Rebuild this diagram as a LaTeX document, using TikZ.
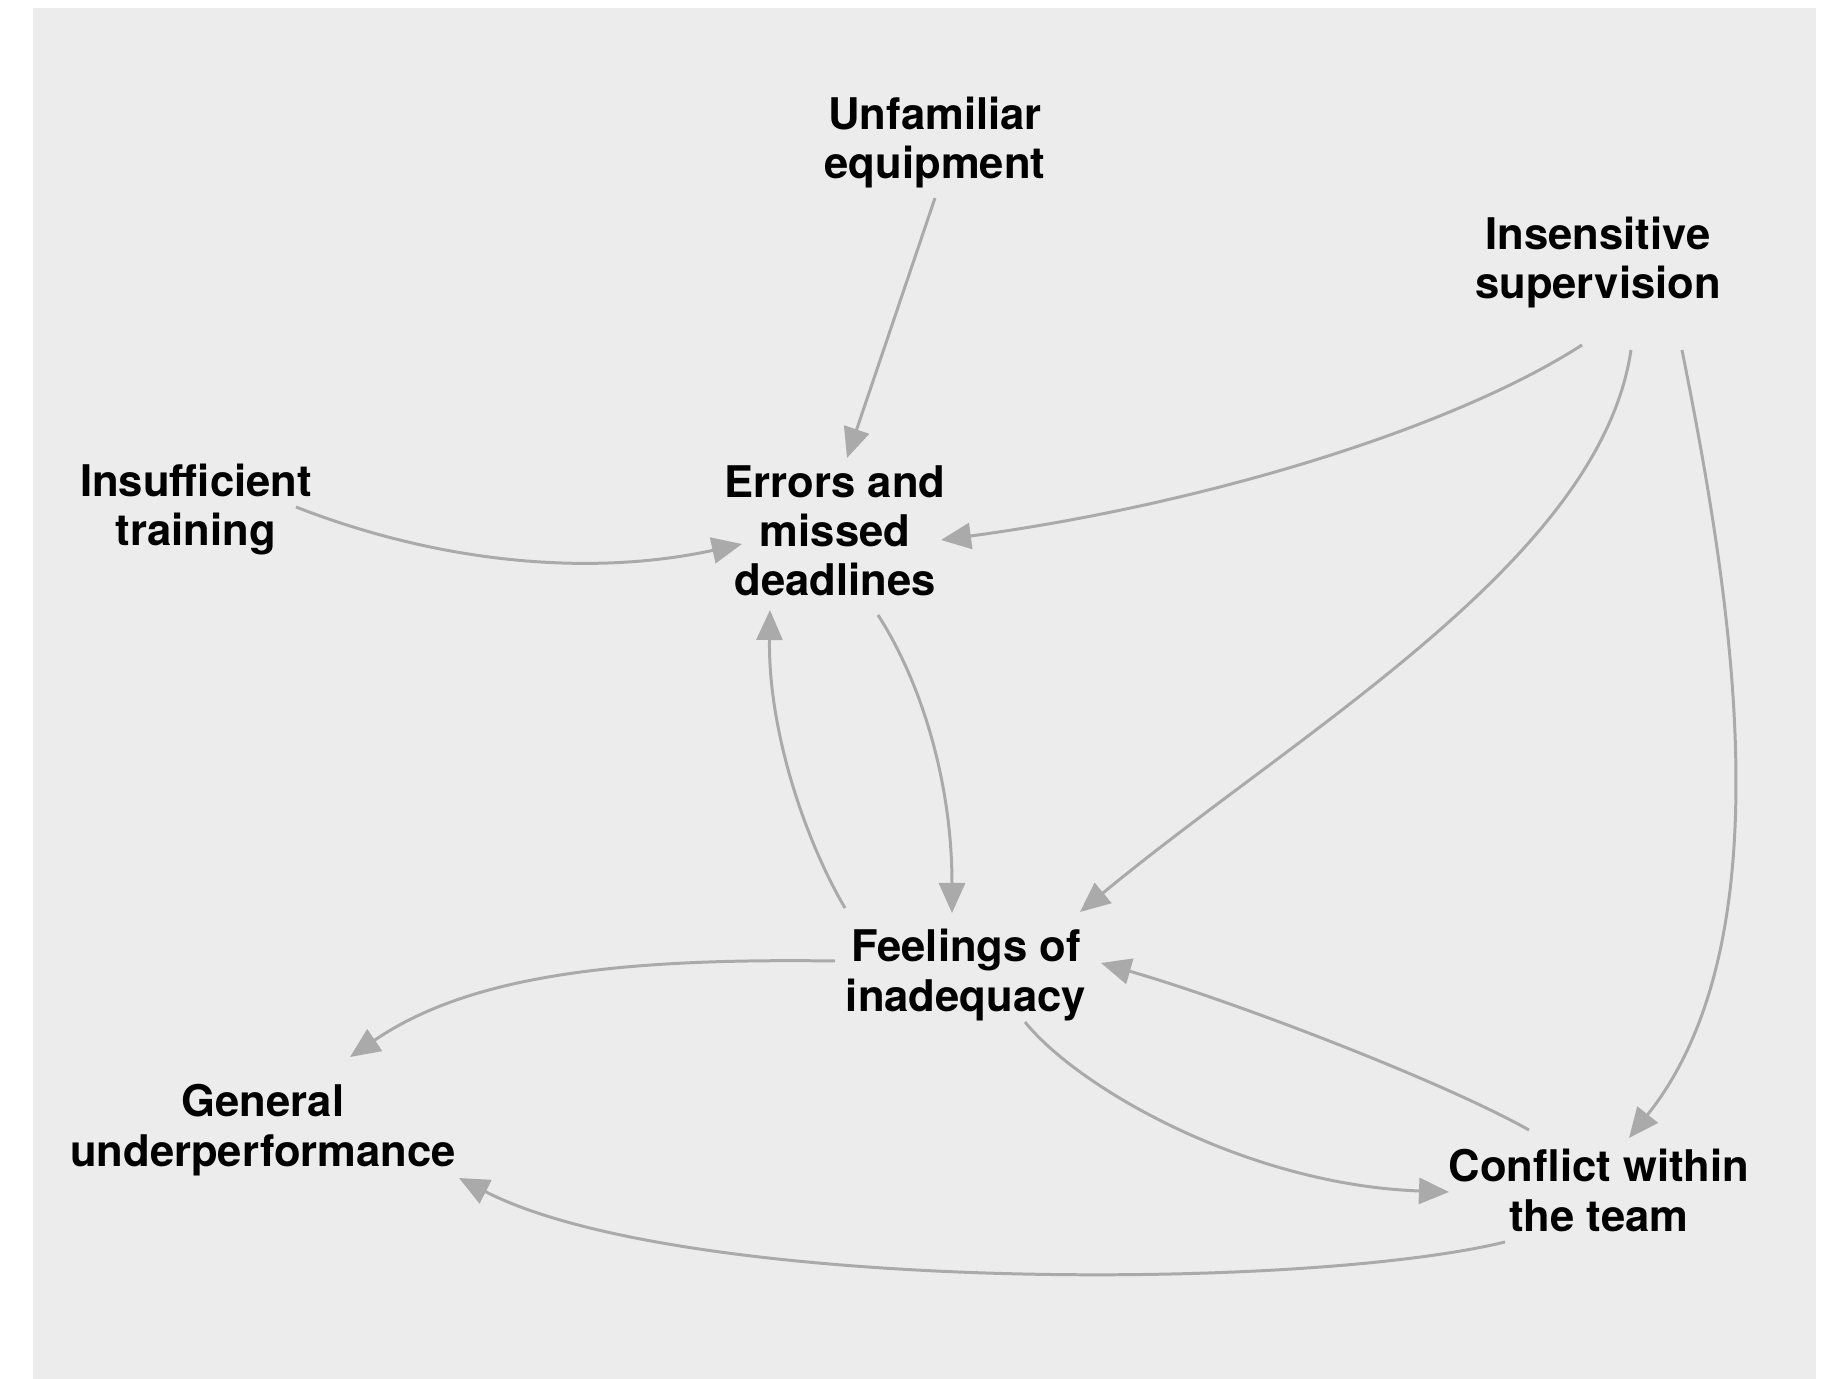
\documentclass[tikz,border=0pt]{standalone}
\usepackage{fontspec}
\setmainfont{TeX Gyre Heros}
\usetikzlibrary{arrows.meta}
\definecolor{panelgray}{HTML}{ECECEC}
\definecolor{linkgray}{HTML}{AAAAAA}
\tikzset{factor/.style = {anchor = base, align = center, inner sep = 0,
                          font = \fontsize{12.4}{13.95}\selectfont\bfseries}}
\tikzset{link/.style = {draw = linkgray, line width = 0.85pt,
                        -{Triangle[length = 3mm, width = 2.6mm]}}}

\begin{document}
\begin{tikzpicture}[x = 0.01cm, y = -0.01cm]
    \useasboundingbox (0, 0) rectangle (1826, 1379);
    \fill [panelgray] (33, 8) rectangle (1816, 1379);

    \node [factor] (unfam) at (935, 179) {Unfamiliar\\equipment};
    \node [factor] (insens) at (1598, 299) {Insensitive\\supervision};
    \node [factor] (insuff) at (196, 546) {Insufficient\\training};
    \node [factor] (errors) at (835, 596) {Errors and\\missed\\deadlines};
    \node [factor] (feel) at (966, 1011) {Feelings of\\inadequacy};
    \node [factor] (general) at (263, 1166) {General\\underperformance};
    \node [factor] (conflict) at (1599, 1231) {Conflict within\\the team};

    \draw [link] ([shift={(0, 19)}]unfam.base) -- ([shift={(12, -138)}]errors.base);
    \draw [link] ([shift={(100, -39)}]insuff.base) .. controls +(154, 60) and +(-142, 31) .. ([shift={(-93, -52)}]errors.base);
    \draw [link] ([shift={(-16, 46)}]insens.base) .. controls +(-132, 85) and +(259, -35) .. ([shift={(106, -56)}]errors.base);
    \draw [link] ([shift={(33, 51)}]insens.base) .. controls +(-31, 210) and +(220, -182) .. ([shift={(114, -99)}]feel.base);
    \draw [link] ([shift={(84, 51)}]insens.base) .. controls +(50, 250) and +(158, -198) .. ([shift={(30, -93)}]conflict.base);

    \draw [link] ([shift={(43, 19)}]errors.base) .. controls +(42, 65) and +(0, -133) .. ([shift={(-14, -98)}]feel.base);
    \draw [link] ([shift={(-121, -103)}]feel.base) .. controls +(-40, -68) and +(-2, 120) .. ([shift={(-65, 14)}]errors.base);

    \draw [link] ([shift={(-131, -50)}]feel.base) .. controls +(-215, -3) and +(120, -82) .. ([shift={(87, -109)}]general.base);
    \draw [link] ([shift={(59, 11)}]feel.base) .. controls +(55, 68) and +(-199, -7) .. ([shift={(-150, -39)}]conflict.base);
    \draw [link] ([shift={(-70, -101)}]conflict.base) .. controls +(-89, -50) and +(129, 37) .. ([shift={(135, -48)}]feel.base);
    \draw [link] ([shift={(-94, 11)}]conflict.base) .. controls +(-205, 50) and +(221, 114) .. ([shift={(196, 12)}]general.base);
\end{tikzpicture}
\end{document}
